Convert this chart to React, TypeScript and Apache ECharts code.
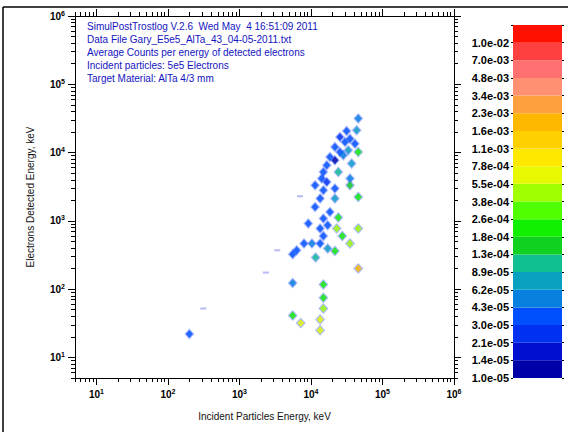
import React, { useEffect, useRef } from "react";
import * as echarts from "echarts";

// ---- data ----
const incidentEnergy = [45800, 43500, 31500, 35100, 25400, 29900, 41200, 45800, 33200, 21600, 25400, 21600, 18400, 28300, 37000, 16600, 24100, 14900, 14100, 35100, 16600, 35100, 11400, 14900, 21600, 13400, 21600, 45800, 11400, 18400, 24100, 9160, 14900, 17100, 22900, 45800, 13400, 27400, 14900, 35100, 7980, 10300, 13400, 17100, 21600, 6310, 5540, 11600, 45800, 5540, 14900, 14900, 14900, 5540, 7180, 13400, 13400, 199];
const detectedEnergy = [31500, 21200, 20700, 16000, 16900, 14300, 13500, 10200, 10800, 12100, 10200, 7720, 8630, 9130, 6900, 6520, 5200, 5200, 4160, 4160, 3710, 3320, 3320, 2810, 2970, 2120, 2120, 2240, 1600, 1350, 1120, 913, 1080, 862, 771, 771, 771, 601, 601, 466, 466, 466, 466, 393, 363, 371, 324, 290, 200, 123, 117, 75, 52, 41, 32, 36, 25, 22];
const avgCounts = [5e-5, 7e-5, 3.5e-5, 3.5e-5, 2.5e-5, 3.5e-5, 3.5e-5, 2e-4, 7e-5, 3.5e-5, 3.5e-5, 1.2e-5, 3.5e-5, 5e-5, 7e-5, 3.5e-5, 1e-4, 3.5e-5, 3.5e-5, 5e-5, 2.5e-5, 1.5e-4, 3.5e-5, 3.5e-5, 3.5e-5, 3.5e-5, 7e-5, 2e-4, 3.5e-5, 3.5e-5, 2e-4, 3.5e-5, 3.5e-5, 3.5e-5, 4.5e-4, 4.5e-4, 3.5e-5, 2e-4, 3.5e-5, 4.5e-4, 3.5e-5, 5e-5, 3.5e-5, 7e-5, 2e-4, 3.5e-5, 3.5e-5, 1e-4, 2e-3, 5e-5, 2e-4, 2e-4, 4.5e-4, 2e-4, 6e-4, 6e-4, 6e-4, 3.5e-5];
const faintIncident = [7010, 3380, 2340, 311];
const faintDetected = [2290, 371, 175, 52];

const levelThresholds = [1.0e-5, 1.4e-5, 2.1e-5, 3.0e-5, 4.3e-5, 6.2e-5, 8.9e-5, 1.3e-4, 1.8e-4, 2.6e-4, 3.8e-4, 5.5e-4, 7.8e-4, 1.1e-3, 1.6e-3, 2.3e-3, 3.4e-3, 4.8e-3, 7.0e-3, 1.0e-2];
const levelLabels = ["1.0e-05", "1.4e-05", "2.1e-05", "3.0e-05", "4.3e-05", "6.2e-05", "8.9e-05", "1.3e-04", "1.8e-04", "2.6e-04", "3.8e-04", "5.5e-04", "7.8e-04", "1.1e-03", "1.6e-03", "2.3e-03", "3.4e-03", "4.8e-03", "7.0e-03", "1.0e-02"];
const levelColors = ["#0000a8", "#0010d0", "#0030f0", "#0050ff", "#0880e0", "#0aa0c0", "#10c090", "#10d020", "#10f000", "#50ff00", "#a0ff00", "#e8f800", "#ffe800", "#ffd000", "#ffb800", "#ffa040", "#ff9070", "#ff7070", "#ff4040", "#ff1000"];
const decadeExponents = [1, 2, 3, 4, 5, 6];
const axisMinValue = 5;
const axisMaxValue = 1e6;
const infoLines = [
  "SimulPostTrostlog V.2.6  Wed May  4 16:51:09 2011",
  "Data File Gary_E5e5_AlTa_43_04-05-2011.txt",
  "Average Counts per energy of detected electrons",
  "Incident particles: 5e5 Electrons",
  "Target Material: AlTa 4/3 mm",
];

const FONT = "Liberation Sans, Arial, Helvetica, sans-serif";

export default function App() {
  const ref = useRef<HTMLDivElement>(null);
  useEffect(() => {
    if (!ref.current) return;
    const chart = echarts.init(ref.current, null, { renderer: "svg" });
    const lmin = Math.log10(axisMinValue);
    const lmax = Math.log10(axisMaxValue);
    const minorTicks: number[] = [];
    for (let n = 0; n <= 5; n++) {
      for (let k = 2; k <= 9; k++) {
        const v = Math.log10(k * Math.pow(10, n));
        if (v >= lmin - 1e-9 && v <= lmax + 1e-9) minorTicks.push(v);
      }
    }
    const pts = incidentEnergy.map((x, i) => [Math.log10(x), Math.log10(detectedEnergy[i]), avgCounts[i]]);
    const faint = faintIncident.map((x, i) => [Math.log10(x), Math.log10(faintDetected[i])]);

    const rich = {
      b: { fontSize: 10, fontWeight: "bold", fontFamily: FONT, color: "#000" },
      s: { fontSize: 7, fontWeight: "bold", fontFamily: FONT, color: "#000", padding: [0, 0, 6, 0] },
    };
    const labelFmt = (v: number) => `{b|10}{s|${Math.round(v)}}`;

    const mkAxis = (pos: string, major: boolean, labels: boolean, extra: any = {}) => ({
      type: "value",
      min: lmin,
      max: lmax,
      position: pos,
      gridIndex: 0,
      axisLine: { show: major, onZero: false, lineStyle: { color: "#000", width: 1 } },
      axisTick: {
        show: true,
        inside: false,
        customValues: major ? decadeExponents : minorTicks,
        length: major ? 7 : 4,
        lineStyle: { color: "#000", width: 1 },
      },
      axisLabel: labels
        ? { show: true, customValues: decadeExponents, formatter: labelFmt, rich, margin: 10 }
        : { show: false },
      splitLine: { show: false },
      ...extra,
    });

    const pieces: any[] = [{ lt: levelThresholds[0], color: "#a0a0ff" }];
    levelThresholds.forEach((t, i) => {
      const p: any = { gte: t, color: levelColors[i] };
      if (i < levelThresholds.length - 1) p.lt = levelThresholds[i + 1];
      pieces.push(p);
    });

    const option: any = {
      animation: false,
      grid: [
        { left: 75, right: 114, top: 16, bottom: 56 },
        { left: 513, width: 49, top: 25, height: 353 },
      ],
      xAxis: [
        mkAxis("bottom", true, true, {
          name: "Incident Particles Energy, keV",
          nameLocation: "middle",
          nameGap: 33,
          nameTextStyle: { fontFamily: FONT, fontSize: 10, color: "#111" },
        }),
        mkAxis("bottom", false, false),
        mkAxis("top", true, false),
        mkAxis("top", false, false),
        { type: "value", gridIndex: 1, min: 0, max: 1, show: false },
      ],
      yAxis: [
        mkAxis("left", true, true, {
          name: "Electrons Detected Energy, keV",
          nameLocation: "middle",
          nameGap: 40,
          nameRotate: 90,
          nameTextStyle: { fontFamily: FONT, fontSize: 10, color: "#111" },
        }),
        mkAxis("left", false, false),
        mkAxis("right", true, false),
        mkAxis("right", false, false),
        {
          type: "value",
          gridIndex: 1,
          min: 0,
          max: 20,
          interval: 1,
          position: "left",
          axisLine: { show: false },
          axisTick: { show: true, length: 2, lineStyle: { color: "#000" } },
          axisLabel: {
            show: true,
            margin: 4,
            fontSize: 11,
            fontWeight: "bold",
            fontFamily: FONT,
            color: "#000",
            formatter: (v: number) => (v < levelLabels.length ? levelLabels[v] : ""),
          },
          splitLine: { show: false },
        },
        {
          type: "value",
          gridIndex: 1,
          min: 0,
          max: 20,
          interval: 1,
          position: "right",
          axisLine: { show: false },
          axisTick: { show: true, length: 2, lineStyle: { color: "#000" } },
          axisLabel: { show: false },
          splitLine: { show: false },
        },
      ],
      visualMap: [
        {
          type: "piecewise",
          show: false,
          seriesIndex: 1,
          dimension: 2,
          pieces,
        },
      ],
      series: [
        {
          type: "scatter",
          xAxisIndex: 0,
          yAxisIndex: 0,
          symbol: "diamond",
          symbolSize: [10, 11],
          data: pts,
          itemStyle: { color: "rgba(40,80,255,0.5)" },
          silent: true,
          z: 2,
        },
        {
          type: "scatter",
          xAxisIndex: 0,
          yAxisIndex: 0,
          symbol: "diamond",
          symbolSize: [7, 8],
          data: pts,
          z: 3,
        },
        {
          type: "scatter",
          xAxisIndex: 0,
          yAxisIndex: 0,
          symbol: "rect",
          symbolSize: [6, 2],
          data: faint,
          itemStyle: { color: "#a8a8f0" },
          z: 3,
        },
        {
          type: "custom",
          xAxisIndex: 4,
          yAxisIndex: 4,
          data: levelColors.map((c, i) => [0, i]),
          encode: { x: 0, y: 1 },
          renderItem: (params: any, api: any) => {
            const i = api.value(1);
            const p0 = api.coord([0, i]);
            const p1 = api.coord([1, i + 1]);
            return {
              type: "rect",
              shape: { x: p0[0], y: p1[1], width: p1[0] - p0[0], height: p0[1] - p1[1] },
              style: { fill: levelColors[i] },
            };
          },
        },
      ],
      graphic: [
        {
          type: "text",
          left: 87,
          top: 20,
          style: {
            text: infoLines.join("\n"),
            font: `10px ${FONT}`,
            fill: "#1414c0",
            lineHeight: 13,
          },
          z: 10,
        },
        { type: "line", shape: { x1: 3, y1: 7, x2: 568, y2: 7 }, style: { stroke: "#000", lineWidth: 1.5 } },
        { type: "line", shape: { x1: 3, y1: 7, x2: 3, y2: 432 }, style: { stroke: "#000", lineWidth: 1.5 } },
      ],
    };
    chart.setOption(option);
    return () => chart.dispose();
  }, []);
  return (
    <div
      ref={ref}
      style={{ position: "fixed", left: 0, top: 0, width: 568, height: 434, background: "#fff" }}
    />
  );
}
